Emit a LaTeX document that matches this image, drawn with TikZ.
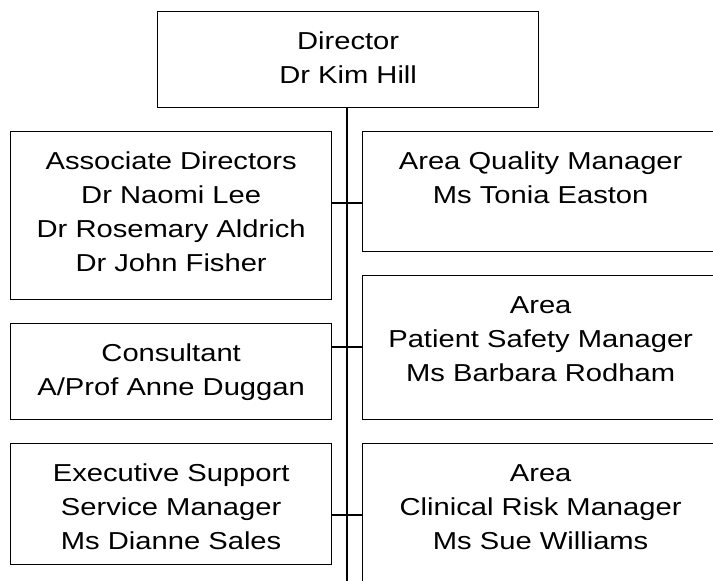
\documentclass[tikz,border=0pt]{standalone}
\usepackage{fontspec}
\setmainfont{Liberation Sans}[FakeStretch=1.19]
\usetikzlibrary{positioning}

% text of a post: top aligned in a box of width #1 and height #2
\newcommand{\posttext}[3]{\parbox[c][#2][t]{#1}{\centering\rule{0pt}{38pt}#3\par}}

\tikzset{
  post/.style={draw, line width=1.3pt, inner sep=0pt, anchor=north west},
  link/.style={line width=1.3pt}
}

\begin{document}
\begin{tikzpicture}[x=1pt, y=-1pt,
  every node/.append style={font=\fontsize{24.5}{34}\selectfont}]

% Size of the page
\useasboundingbox (0,0) rectangle (713,581);
\clip (0,0) rectangle (713,581);

% Widths of the columns of posts
\def \wl{ 321pt } % Width of the left  posts
\def \wr{ 356pt } % Width of the right posts

% The head of the unit
\node[post] (dir) at (157,11)
  {\posttext{381pt}{96pt}{Director\\Dr Kim Hill}};

% Left column
\node[post] (assoc) at (10,131)
  {\posttext{\wl}{168pt}{Associate Directors\\Dr Naomi Lee\\Dr Rosemary Aldrich\\Dr John Fisher}};
\node[post] (consult) at (10,323)
  {\posttext{\wl}{96pt}{Consultant\\A/Prof Anne Duggan}};
\node[post] (exec) at (10,443)
  {\posttext{\wl}{121pt}{Executive Support\\Service Manager\\Ms Dianne Sales}};

% Right column (cut by the edge of the page)
\node[post] (quality) at (362,131)
  {\posttext{\wr}{120pt}{Area Quality Manager\\Ms Tonia Easton}};
\node[post] (safety) at (362,275)
  {\posttext{\wr}{144pt}{Area\\Patient Safety Manager\\Ms Barbara Rodham}};
\node[post] (clinical) at (362,443)
  {\posttext{\wr}{160pt}{Area\\Clinical Risk Manager\\Ms Sue Williams}};

% Junctions on the trunk
\coordinate (j1)  at (347,203);
\coordinate (j2)  at (347,347);
\coordinate (j3)  at (347,515);
\coordinate (end) at (347,600);

% The trunk and the branches
\draw[link] (dir.south -| j1) -- (end);
\draw[link] (assoc.east |- j1)   -- (quality.west |- j1)
            (consult.east |- j2) -- (safety.west |- j2)
            (exec.east |- j3)    -- (clinical.west |- j3);
\end{tikzpicture}
\end{document}
